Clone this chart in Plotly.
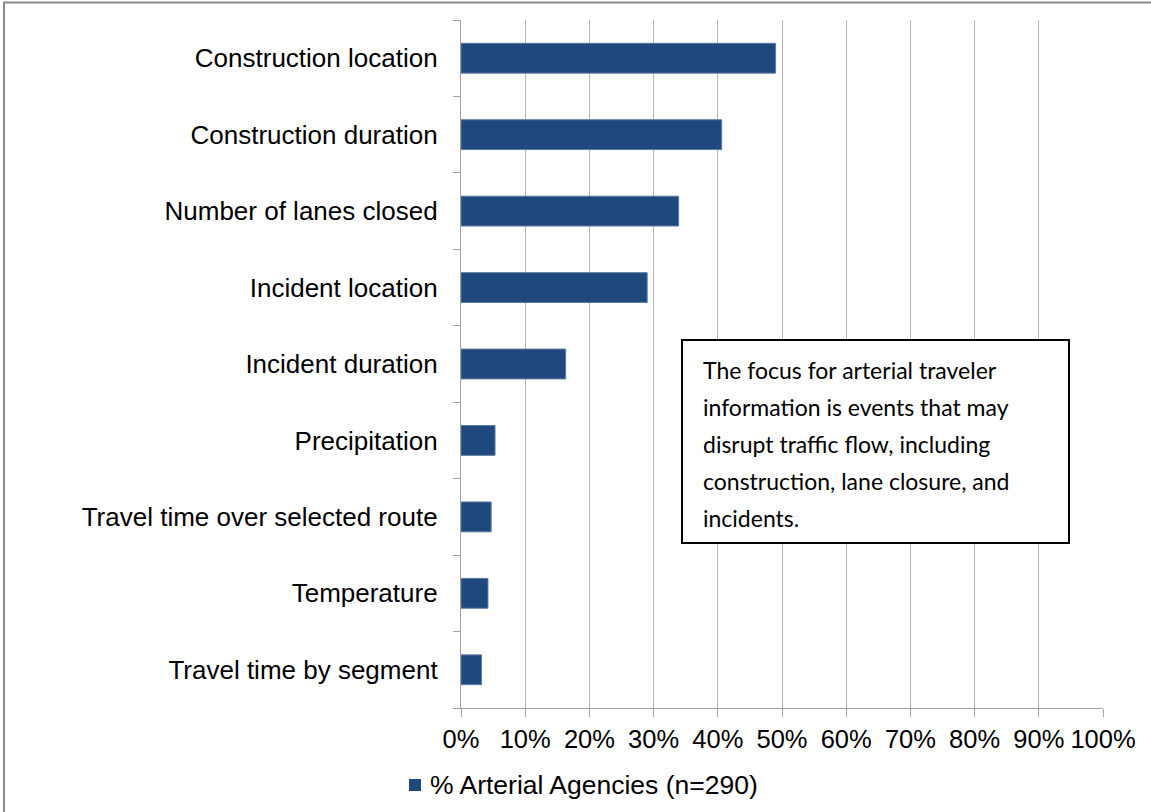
import plotly.graph_objects as go

categories = [
    "Construction location",
    "Construction duration",
    "Number of lanes closed",
    "Incident location",
    "Incident duration",
    "Precipitation",
    "Travel time over selected route",
    "Temperature",
    "Travel time by segment",
]
values = [49.0, 40.6, 33.9, 29.0, 16.3, 5.3, 4.7, 4.2, 3.2]
tick_vals = list(range(0, 101, 10))
tick_text = [f"{v}%" for v in tick_vals]
series_name = "% Arterial Agencies (n=290)"
note_lines = [
    "The focus for arterial traveler",
    "information is events that may",
    "disrupt traffic flow, including",
    "construction, lane closure, and",
    "incidents.",
]

W, H = 1151, 812
L, R, T, B = 461, 48, 20, 104
pw, ph = W - L - R, H - T - B


def px(x):
    return (x - L) / pw


def py(y):
    return (H - B - y) / ph


bar_color = "#1f497d"
fig = go.Figure()
fig.add_trace(go.Bar(
    y=categories[::-1], x=values[::-1], orientation="h",
    marker=dict(color=bar_color, line=dict(color="#5b7ba3", width=1)),
    name=series_name, showlegend=False,
))

fig.update_layout(
    width=W, height=H,
    margin=dict(l=L, r=R, t=T, b=B),
    plot_bgcolor="white", paper_bgcolor="white",
    font=dict(family="Liberation Sans, Arial", size=26, color="black"),
    bargap=0.61,
    showlegend=False,
    xaxis=dict(
        range=[0, 100], tickvals=tick_vals, ticktext=tick_text,
        tickfont=dict(size=25.5),
        showgrid=True, gridcolor="#b4b4b4", gridwidth=1.3,
        showline=True, linecolor="#a0a0a0", linewidth=1.3,
        ticks="outside", ticklen=8, tickcolor="#a0a0a0",
        zeroline=False, fixedrange=True,
    ),
    yaxis=dict(
        showline=True, linecolor="#a0a0a0", linewidth=1.3,
        ticks="outside", ticklen=7, tickcolor="#a0a0a0", tickson="boundaries",
        showgrid=False, ticklabelstandoff=17,
    ),
)

# annotation box
fig.add_shape(type="rect", xref="paper", yref="paper",
              x0=px(682), x1=px(1069), y0=py(543), y1=py(340),
              line=dict(color="black", width=2), fillcolor="white", layer="above")
for i, line in enumerate(note_lines):
    fig.add_annotation(xref="paper", yref="paper", x=px(701), y=py(370 + 37 * i),
                       xanchor="left", yanchor="middle", align="left", showarrow=False,
                       text=line, font=dict(family="Lato, Open Sans", size=23, color="black"))

# legend (manual)
fig.add_shape(type="rect", xref="paper", yref="paper",
              x0=px(409), x1=px(421), y0=py(791), y1=py(779),
              fillcolor=bar_color, line=dict(width=0))
fig.add_annotation(xref="paper", yref="paper", x=px(428), y=py(785),
                   xanchor="left", yanchor="middle", showarrow=False,
                   text=series_name, font=dict(size=26.5))

# outer chart border
fig.add_shape(type="rect", xref="paper", yref="paper",
              x0=px(4), x1=px(1160), y0=py(830), y1=py(2.5),
              line=dict(color="#8a8a8a", width=2), layer="below")

fig.write_html("out.html", config={"displayModeBar": False},
               post_script="document.body.style.margin='0px';document.body.style.overflow='hidden';")
